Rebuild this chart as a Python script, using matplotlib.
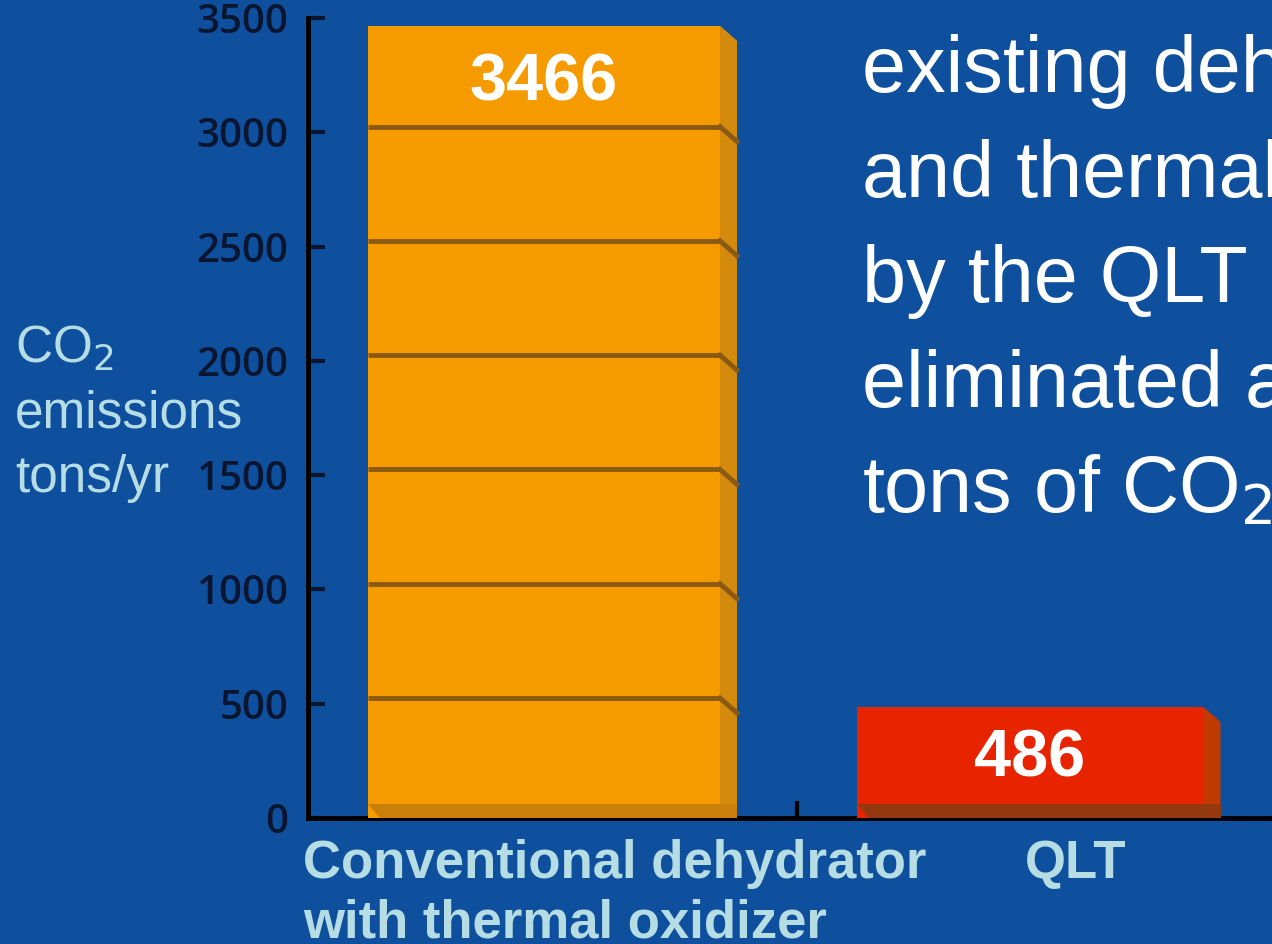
import matplotlib.pyplot as plt
from matplotlib.patches import Polygon, Rectangle

# data
categories = ["Conventional dehydrator\nwith thermal oxidizer", "QLT"]
emissions = [3466, 486]
y_ticks = [0, 500, 1000, 1500, 2000, 2500, 3000, 3500]
side_text = ["existing deh", "and thermal", "by the QLT", "eliminated a", "tons of CO$_2$"]

BG = "#0E4F9E"
FRONT = ["#F59B00", "#E82300"]
SIDE = ["#D48A0C", "#C03A02"]
BOTTOM = ["#C97F0A", "#93380F"]
SEP = "#8A5A14"
LABEL = "#B6DDE4"
TICK = "#0A1530"

plt.rcParams['font.family'] = ['Liberation Sans', 'DejaVu Sans']

fig = plt.figure(figsize=(12.72, 9.44), dpi=100, facecolor=BG)
ax = fig.add_axes([308 / 1272, (944 - 818) / 944, (1272 - 308) / 1272, 800 / 944])
ax.set_facecolor(BG)
ax.set_xlim(0, 964)
ax.set_ylim(0, 3500)

centers = [236, 722]
widths = [352, 347]
depth = 17
px = 3500 / 800.0   # data units per pixel
drop = 15 * px

for i, v in enumerate(emissions):
    x0 = centers[i] - widths[i] / 2
    x1 = x0 + widths[i]
    # side face
    ax.add_patch(Polygon([(x1, v), (x1 + depth, v - drop), (x1 + depth, 0), (x1, 0)],
                         closed=True, facecolor=SIDE[i], edgecolor='none', zorder=2))
    # front face
    ax.add_patch(Rectangle((x0, 0), widths[i], v, facecolor=FRONT[i], edgecolor='none', zorder=3))
    # darker base strip
    band = 14 * px
    ax.add_patch(Polygon([(x0, band), (x1 + depth, band), (x1 + depth, 0), (x0 + 12, 0)],
                         closed=True, facecolor=BOTTOM[i], edgecolor='none', zorder=4))

    if i == 0:
        # brick-like separators every 500
        for s in range(500, int(v), 500):
            ax.plot([x0, x1], [s + 25, s + 25], color=SEP, lw=3.5, zorder=5, solid_capstyle='butt')
            ax.plot([x1, x1 + depth], [s + 25, s + 25 - drop], color=SEP, lw=3.5, zorder=5)

    ax.text(centers[i], v - 75 * px if i == 0 else v - 70 * px, str(v),
            ha='center', va='baseline', color='white', fontsize=48, fontweight='bold', zorder=6)

ax.set_yticks(y_ticks)
ax.set_yticklabels([str(t) for t in y_ticks], fontsize=29, color=TICK,
                   family=['Open Sans', 'DejaVu Sans'], fontweight='semibold')
ax.tick_params(axis='y', direction='in', length=12, width=3, pad=14, colors=TICK)
ax.set_xticks([489])
ax.set_xticklabels([""])
ax.tick_params(axis='x', direction='in', length=12, width=3, color='black')

for side in ['top', 'right']:
    ax.spines[side].set_visible(False)
for side in ['left', 'bottom']:
    ax.spines[side].set_linewidth(3.5)
    ax.spines[side].set_color('black')

# category labels
first, second = categories[0].split("\n")
fig.text(303 / 1272, 1 - 878 / 944, first, ha='left', va='baseline', color=LABEL,
         fontsize=38, fontweight='bold')
fig.text(303 / 1272, 1 - 938 / 944, second, ha='left', va='baseline', color=LABEL,
         fontsize=38, fontweight='bold')
fig.text(1025 / 1272, 1 - 878 / 944, categories[1], ha='left', va='baseline', color=LABEL,
         fontsize=38, fontweight='bold')

# y axis label
fig.text(15 / 1272, 1 - 363 / 944, "CO$_2$", ha='left', va='baseline', color=LABEL, fontsize=37)
fig.text(15 / 1272, 1 - 428 / 944, "emissions", ha='left', va='baseline', color=LABEL, fontsize=37)
fig.text(15 / 1272, 1 - 492 / 944, "tons/yr", ha='left', va='baseline', color=LABEL, fontsize=37)

# slide text on the right (cut by the slide edge, as in the original)
for k, line in enumerate(side_text):
    fig.text(862 / 1272, 1 - (92 + 105 * k) / 944, line, ha='left', va='baseline',
             color='white', fontsize=57)

fig.savefig("out.png", dpi=100, facecolor=BG)
